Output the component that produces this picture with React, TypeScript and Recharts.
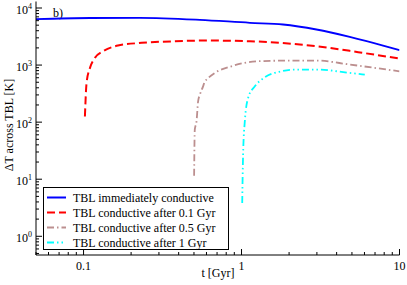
import { LineChart, Line, XAxis, YAxis } from 'recharts';

if (typeof document !== 'undefined') document.body.style.margin = '0';

const SERIF = 'Liberation Serif, Times New Roman, DejaVu Serif, serif';

// t [Gyr] and Delta T [K]
const tImmediate = [0.05, 0.11, 0.227, 0.545, 1.13, 1.83, 2.98, 4.84, 7.87, 10];
const vImmediate = [6390, 6680, 6730, 6210, 5500, 5140, 4200, 3127, 2200, 1820];

const tAfter01 = [0.102, 0.1045, 0.1098, 0.118, 0.133, 0.165, 0.233, 0.379, 0.612, 1.13, 2.34, 2.98, 4.84, 5.86, 10];
const vAfter01 = [126, 487, 893, 1336, 1746, 2198, 2450, 2615, 2690, 2615, 2290, 2138, 1775, 1636, 1300];

const tAfter05 = [0.501, 0.506, 0.519, 0.531, 0.545, 0.571, 0.586, 0.6, 0.678, 0.864, 1.27, 2.07, 3.0, 4.84, 10];
const vAfter05 = [11.5, 74, 103, 232, 303, 424, 520, 557, 730, 953, 1167, 1199, 1199, 1021, 778];

const tAfter1 = [1.01, 1.023, 1.049, 1.101, 1.214, 1.404, 1.792, 2.175, 2.99, 4.84, 6.03];
const vAfter1 = [3.82, 26.9, 103, 266, 424, 611, 778, 834, 834, 730, 681];

const seriesNames = [
  'TBL immediately conductive',
  'TBL conductive after 0.1 Gyr',
  'TBL conductive after 0.5 Gyr',
  'TBL conductive after 1 Gyr',
];

const xMajor = [0.1, 1, 10];
const yMajor = [1, 10, 100, 1000, 10000];
const xDomain = [0.05, 10];
const yDomain = [0.47, 13000];

// minor ticks 2..9 of each decade, kept inside the domain
const withMinors = (majors: number[], lo: number, hi: number) => {
  const out: number[] = [];
  const decades = [majors[0] / 10, ...majors];
  decades.forEach((d) => {
    for (let k = 1; k < 10; k++) {
      const v = +(d * k).toPrecision(6);
      if (v >= lo && v <= hi && !out.includes(v)) out.push(v);
    }
  });
  return out.sort((a, b) => a - b);
};
const xTicks = withMinors(xMajor, xDomain[0], xDomain[1]);
const yTicks = withMinors(yMajor, yDomain[0], yDomain[1]);

const zip = (t: number[], v: number[]) => t.map((x, i) => ({ t: x, v: v[i] }));

const series = [
  { name: seriesNames[0], data: zip(tImmediate, vImmediate), color: '#0000ff', dash: undefined, width: 1.8 },
  { name: seriesNames[1], data: zip(tAfter01, vAfter01), color: '#ff0000', dash: '8 4', width: 2 },
  { name: seriesNames[2], data: zip(tAfter05, vAfter05), color: '#bc8f8f', dash: '7 3 1.5 3', width: 1.8 },
  { name: seriesNames[3], data: zip(tAfter1, vAfter1), color: '#00ffff', dash: '7 3 1.5 3 1.5 3', width: 1.8 },
];

const txt = { fontSize: 12, fill: '#000', style: { fontFamily: SERIF } };

const BottomTick = ({ x, y, payload }: any) => {
  const major = xMajor.includes(payload.value);
  return (
    <g>
      <line x1={x} x2={x} y1={y} y2={y - (major ? 6 : 3)} stroke="#000" />
      {major && (
        <text x={x} y={y + 14.5} textAnchor="middle" {...txt}>
          {payload.value}
        </text>
      )}
    </g>
  );
};

const TopTick = ({ x, y, payload }: any) => {
  const major = xMajor.includes(payload.value);
  return <line x1={x} x2={x} y1={y} y2={y + (major ? 6 : 3)} stroke="#000" />;
};

const LeftTick = ({ x, y, payload }: any) => {
  const major = yMajor.includes(payload.value);
  const exp = Math.round(Math.log10(payload.value));
  return (
    <g>
      <line x1={x} x2={x + (major ? 6 : 3)} y1={y} y2={y} stroke="#000" />
      {major && (
        <text x={x - 4} y={y + 6} textAnchor="end" {...txt}>
          <tspan>10</tspan>
          <tspan dy={-5.5} fontSize={8}>{exp}</tspan>
        </text>
      )}
    </g>
  );
};

const RightTick = ({ x, y, payload }: any) => {
  const major = yMajor.includes(payload.value);
  return <line x1={x} x2={x - (major ? 6 : 3)} y1={y} y2={y} stroke="#000" />;
};

const Legend = () => (
  <div
    style={{
      position: 'absolute',
      left: 43,
      top: 187,
      width: 186,
      height: 63,
      border: '1px solid #000',
      boxSizing: 'border-box',
      background: '#fff',
    }}
  >
    <svg width={184} height={61} style={{ display: 'block' }}>
      {series.map((s, i) => {
        const cy = 9.5 + i * 15;
        return (
          <g key={s.name}>
            <line x1={3} x2={22} y1={cy} y2={cy} stroke={s.color} strokeWidth={2} strokeDasharray={s.dash} />
            <text x={29} y={cy + 4} {...txt}>
              {s.name}
            </text>
          </g>
        );
      })}
    </svg>
  </div>
);

export default function App() {
  return (
    <div style={{ position: 'relative', width: 407, height: 285, background: '#fff' }}>
      <LineChart width={407} height={285} margin={{ top: 1.5, right: 7.5, bottom: 0, left: 0 }}>
        <XAxis
          dataKey="t"
          type="number"
          scale="log"
          domain={xDomain}
          allowDataOverflow
          ticks={xTicks}
          interval={0}
          tick={BottomTick}
          tickSize={0}
          tickMargin={0}
          tickLine={false}
          height={30}
          axisLine={{ stroke: '#000' }}
        />
        <XAxis
          xAxisId="top"
          orientation="top"
          type="number"
          scale="log"
          domain={xDomain}
          allowDataOverflow
          ticks={xTicks}
          interval={0}
          tick={TopTick}
          tickSize={0}
          tickMargin={0}
          tickLine={false}
          height={0}
          axisLine={{ stroke: '#000' }}
        />
        <YAxis
          type="number"
          scale="log"
          domain={yDomain}
          allowDataOverflow
          ticks={yTicks}
          interval={0}
          tick={LeftTick}
          tickSize={0}
          tickMargin={0}
          tickLine={false}
          width={36}
          axisLine={{ stroke: '#000' }}
        />
        <YAxis
          yAxisId="right"
          orientation="right"
          type="number"
          scale="log"
          domain={yDomain}
          allowDataOverflow
          ticks={yTicks}
          interval={0}
          tick={RightTick}
          tickSize={0}
          tickMargin={0}
          tickLine={false}
          width={0}
          axisLine={{ stroke: '#000' }}
        />
        {series.map((s) => (
          <Line
            key={s.name}
            data={s.data}
            dataKey="v"
            name={s.name}
            type="monotone"
            stroke={s.color}
            strokeWidth={s.width}
            strokeDasharray={s.dash}
            dot={false}
            isAnimationActive={false}
          />
        ))}
        <text x={53} y={17} {...txt}>b)</text>
        <text x={13} y={125} transform="rotate(-90 13 125)" textAnchor="middle" {...txt}>
          ΔT across TBL [K]
        </text>
        <text x={218} y={277} textAnchor="middle" {...txt}>
          t [Gyr]
        </text>
      </LineChart>
      <Legend />
    </div>
  );
}
